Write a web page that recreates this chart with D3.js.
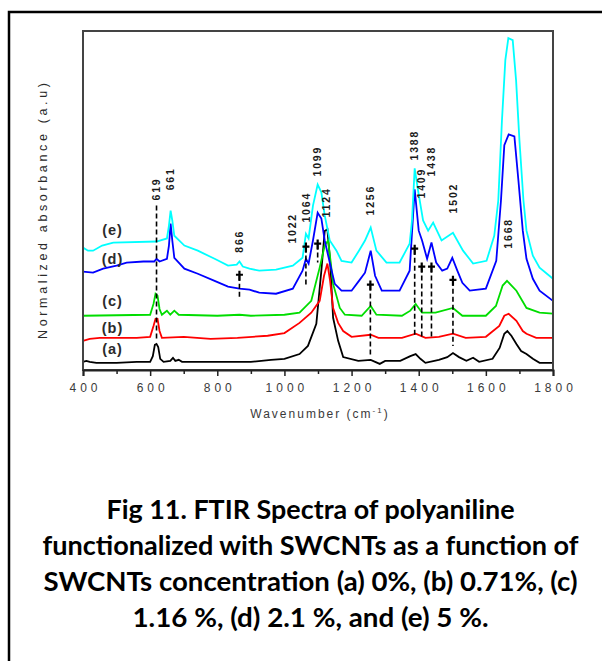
<!DOCTYPE html>
<html>
<head>
<meta charset="utf-8">
<script src="https://cdn.jsdelivr.net/npm/d3@7"></script>
<style>
  html, body { margin: 0; padding: 0; background: #fff; }
  svg { display: block; }
</style>
</head>
<body>
<svg id="chart" width="602" height="661"></svg>
<script>
// ---- FTIR spectra: [wavenumber (cm-1), normalized absorbance (a.u.)] ----
const spectrumA = [
  [400,0.024],[410,0.027],[420,0.024],[440,0.021],[500,0.021],[560,0.024],[600,0.024],
  [608,0.041],[614,0.074],[619,0.077],[624,0.068],[630,0.033],[640,0.024],[660,0.027],
  [668,0.036],[675,0.027],[685,0.030],[695,0.024],[800,0.024],[900,0.024],[960,0.030],
  [1000,0.033],[1045,0.047],[1070,0.071],[1095,0.136],[1110,0.293],[1120,0.410],
  [1128,0.415],[1136,0.322],[1145,0.154],[1160,0.086],[1175,0.038],[1220,0.027],
  [1257,0.030],[1284,0.018],[1300,0.027],[1345,0.027],[1375,0.041],[1391,0.047],
  [1405,0.033],[1420,0.021],[1460,0.030],[1485,0.038],[1502,0.050],[1520,0.038],
  [1542,0.027],[1562,0.036],[1580,0.024],[1620,0.033],[1641,0.065],[1655,0.107],
  [1664,0.115],[1676,0.101],[1691,0.077],[1705,0.056],[1721,0.047],[1740,0.033],
  [1760,0.021],[1800,0.021]
];
const spectrumB = [
  [400,0.086],[420,0.092],[450,0.095],[560,0.095],[600,0.098],[610,0.130],[616,0.151],
  [622,0.151],[628,0.115],[635,0.095],[700,0.098],[780,0.092],[860,0.095],[950,0.101],
  [1000,0.109],[1045,0.139],[1080,0.169],[1105,0.204],[1118,0.278],[1128,0.314],
  [1136,0.263],[1145,0.183],[1160,0.139],[1175,0.115],[1200,0.098],[1257,0.104],
  [1280,0.095],[1350,0.095],[1391,0.107],[1420,0.095],[1460,0.098],[1502,0.107],
  [1540,0.095],[1600,0.098],[1640,0.130],[1655,0.160],[1668,0.166],[1691,0.145],
  [1710,0.115],[1721,0.107],[1750,0.095],[1800,0.095]
];
const spectrumC = [
  [400,0.160],[600,0.163],[610,0.195],[616,0.225],[622,0.219],[628,0.180],[635,0.163],
  [650,0.175],[660,0.163],[672,0.175],[685,0.163],[800,0.160],[866,0.163],[900,0.160],
  [1000,0.163],[1045,0.169],[1080,0.204],[1105,0.302],[1120,0.367],[1130,0.382],
  [1138,0.317],[1145,0.254],[1165,0.183],[1180,0.163],[1230,0.160],[1257,0.189],
  [1274,0.163],[1350,0.160],[1375,0.175],[1391,0.195],[1410,0.169],[1450,0.169],
  [1502,0.183],[1530,0.160],[1600,0.160],[1630,0.189],[1650,0.249],[1663,0.263],
  [1691,0.234],[1721,0.183],[1760,0.169],[1800,0.166]
];
const spectrumD = [
  [400,0.290],[430,0.287],[460,0.299],[500,0.308],[530,0.317],[580,0.320],[612,0.320],
  [619,0.328],[628,0.320],[650,0.328],[656,0.367],[661,0.432],[666,0.382],[672,0.331],
  [702,0.299],[742,0.284],[792,0.263],[832,0.246],[866,0.240],[896,0.237],[925,0.228],
  [975,0.225],[1025,0.240],[1054,0.293],[1064,0.328],[1072,0.314],[1085,0.382],
  [1099,0.464],[1110,0.447],[1120,0.382],[1135,0.317],[1150,0.254],[1170,0.234],
  [1200,0.234],[1222,0.263],[1240,0.287],[1257,0.352],[1270,0.278],[1290,0.234],
  [1343,0.234],[1373,0.293],[1388,0.533],[1400,0.411],[1410,0.382],[1425,0.328],
  [1438,0.376],[1452,0.317],[1470,0.293],[1485,0.299],[1500,0.331],[1515,0.293],
  [1530,0.257],[1552,0.234],[1600,0.240],[1631,0.322],[1645,0.500],[1655,0.663],
  [1668,0.695],[1685,0.689],[1697,0.559],[1710,0.411],[1721,0.328],[1740,0.269],
  [1760,0.234],[1800,0.204]
];
const spectrumE = [
  [400,0.361],[415,0.352],[430,0.352],[457,0.367],[490,0.376],[619,0.379],[650,0.388],
  [656,0.426],[661,0.470],[666,0.441],[672,0.396],[702,0.367],[742,0.352],[792,0.328],
  [832,0.308],[858,0.311],[866,0.320],[876,0.305],[896,0.299],[925,0.293],[975,0.296],
  [1025,0.308],[1054,0.331],[1064,0.402],[1072,0.388],[1085,0.485],[1099,0.547],
  [1110,0.524],[1120,0.456],[1135,0.382],[1155,0.352],[1170,0.322],[1200,0.317],
  [1222,0.352],[1240,0.382],[1257,0.420],[1274,0.352],[1304,0.317],[1343,0.317],
  [1373,0.373],[1380,0.441],[1388,0.595],[1398,0.530],[1413,0.441],[1428,0.411],
  [1443,0.435],[1468,0.382],[1502,0.405],[1532,0.352],[1562,0.314],[1602,0.322],
  [1625,0.396],[1637,0.500],[1648,0.737],[1658,0.914],[1667,0.979],[1680,0.973],
  [1690,0.855],[1700,0.678],[1712,0.500],[1721,0.411],[1740,0.337],[1760,0.302],
  [1800,0.269]
];

const seriesNames       = ["(a)", "(b)", "(c)", "(d)", "(e)"];
const seriesColors      = ["#000000", "#ff0000", "#00dd00", "#0000ff", "#00ffff"];
const seriesLabelLevels = [0.062, 0.124, 0.204, 0.328, 0.414];
const spectra           = [spectrumA, spectrumB, spectrumC, spectrumD, spectrumE];

// Assigned band positions with dashed guide: wavenumber, marker level, guide bottom
const bandWavenumbers = [619, 866, 1064, 1099, 1256, 1388, 1409, 1438, 1502];
const bandMarkLevels  = [0.485, 0.278, 0.361, 0.370, 0.249, 0.355, 0.302, 0.302, 0.263];
const bandGuideEnds   = [0.086, 0.216, 0.249, 0.317, 0.041, 0.095, 0.095, 0.095, 0.071];
const bandHasMarker   = [false, true, true, true, true, true, true, true, true];

// Peak annotations: label text, wavenumber, level of label foot
const peakLabels      = ["619", "661", "866", "1022", "1064", "1099", "1124", "1256", "1388", "1409", "1438", "1502", "1668"];
const peakWavenumbers = [619, 661, 866, 1022, 1064, 1099, 1124, 1256, 1388, 1409, 1438, 1502, 1668];
const peakLabelLevels = [0.500, 0.530, 0.346, 0.373, 0.435, 0.571, 0.450, 0.456, 0.618, 0.506, 0.571, 0.462, 0.358];

const xMajorTicks = [400, 600, 800, 1000, 1200, 1400, 1600, 1800];
const xMinorTicks = [500, 700, 900, 1100, 1300, 1500, 1700];

const captionLines = [
  "Fig 11. FTIR Spectra of polyaniline",
  "functionalized with SWCNTs as a function of",
  "SWCNTs concentration (a) 0%, (b) 0.71%, (c)",
  "1.16 %, (d) 2.1 %, and (e) 5 %."
];

// ---- layout ----
const svg = d3.select("#chart");
const plot = { left: 83, right: 553, top: 31, bottom: 370 };
const chartFont = "Liberation Sans, Arial, sans-serif";

const x = d3.scaleLinear().domain([400, 1800]).range([plot.left, plot.right]);
const y = d3.scaleLinear().domain([0, 1]).range([plot.bottom, plot.top]);

// outer figure border (runs off the right and bottom edges)
svg.append("rect")
  .attr("x", 9).attr("y", 12).attr("width", 700).attr("height", 700)
  .attr("fill", "none").attr("stroke", "#000").attr("stroke-width", 2.5);

// spectra
const line = d3.line().x(d => x(d[0])).y(d => y(d[1])).curve(d3.curveLinear);
const gSpec = svg.append("g");
spectra.forEach((s, i) => {
  gSpec.append("path")
    .datum(s)
    .attr("d", line)
    .attr("fill", "none")
    .attr("stroke", seriesColors[i])
    .attr("stroke-width", 1.8)
    .attr("stroke-linejoin", "miter");
});

// series labels
seriesNames.forEach((name, i) => {
  svg.append("text")
    .attr("x", x(488))
    .attr("y", y(seriesLabelLevels[i]))
    .attr("dy", "0.35em")
    .attr("text-anchor", "middle")
    .attr("font-family", chartFont)
    .attr("font-weight", "bold")
    .attr("font-size", 14.5)
    .attr("letter-spacing", 1)
    .attr("fill", "#2b2b2b")
    .text(name);
});

// dashed guides and cross markers at the assigned bands
const gBands = svg.append("g").attr("stroke", "#000");
bandWavenumbers.forEach((w, i) => {
  const bx = x(w);
  gBands.append("line")
    .attr("x1", bx).attr("x2", bx)
    .attr("y1", y(bandMarkLevels[i])).attr("y2", y(bandGuideEnds[i]))
    .attr("stroke-width", 1.6)
    .attr("stroke-dasharray", "5,3");
  if (bandHasMarker[i]) {
    const my = y(bandMarkLevels[i]);
    gBands.append("path")
      .attr("d", `M${bx},${my - 5}V${my + 5}M${bx - 3.5},${my - 1}H${bx + 3.5}`)
      .attr("stroke-width", 2.2)
      .attr("fill", "none");
  }
});

// rotated peak labels
peakLabels.forEach((t, i) => {
  const px = x(peakWavenumbers[i]), py = y(peakLabelLevels[i]);
  svg.append("text")
    .attr("transform", `translate(${px},${py}) rotate(-90)`)
    .attr("dy", "0.35em")
    .attr("font-family", chartFont)
    .attr("font-weight", "bold")
    .attr("font-size", 10.5)
    .attr("letter-spacing", 1.8)
    .attr("fill", "#1a1a1a")
    .text(t);
});

// plot frame
svg.append("rect")
  .attr("x", plot.left).attr("y", plot.top)
  .attr("width", plot.right - plot.left).attr("height", plot.bottom - plot.top)
  .attr("fill", "none").attr("stroke", "#444").attr("stroke-width", 2);

// x axis: major and minor ticks below the frame
const xAxis = d3.axisBottom(x).tickValues(xMajorTicks).tickSize(6).tickPadding(7).tickFormat(d3.format("d"));
const gx = svg.append("g").attr("transform", `translate(0,${plot.bottom})`).call(xAxis);
gx.select(".domain").attr("stroke", "#222").attr("stroke-width", 2);
gx.selectAll(".tick line").attr("stroke", "#222").attr("stroke-width", 1.5);
gx.selectAll(".tick text")
  .attr("font-family", chartFont)
  .attr("font-size", 12)
  .attr("letter-spacing", 4)
  .attr("dx", 2)
  .attr("fill", "#3a3a3a");
const xMinor = d3.axisBottom(x).tickValues(xMinorTicks).tickSize(4).tickFormat("");
const gxm = svg.append("g").attr("transform", `translate(0,${plot.bottom})`).call(xMinor);
gxm.select(".domain").remove();
gxm.selectAll(".tick line").attr("stroke", "#222").attr("stroke-width", 1.5);

// axis titles
const xTitle = svg.append("text")
  .attr("x", 320).attr("y", 418)
  .attr("text-anchor", "middle")
  .attr("font-family", chartFont)
  .attr("font-size", 12)
  .attr("letter-spacing", 2)
  .attr("fill", "#3a3a3a");
xTitle.append("tspan").text("Wavenumber (cm");
xTitle.append("tspan").attr("dy", -5).attr("font-size", 8).text("-1");
xTitle.append("tspan").attr("dy", 5).text(")");

svg.append("text")
  .attr("transform", `translate(47,211) rotate(-90)`)
  .attr("text-anchor", "middle")
  .attr("font-family", chartFont)
  .attr("font-size", 12.5)
  .attr("textLength", 256)
  .attr("lengthAdjust", "spacing")
  .attr("fill", "#2a2a2a")
  .text("Normalized absorbance (a.u)");

// caption
const captionWidths = [408, 536, 534, 356];
captionLines.forEach((t, i) => {
  svg.append("text")
    .attr("x", 310.5).attr("y", 519 + i * 36)
    .attr("text-anchor", "middle")
    .attr("font-family", "Lato, 'Open Sans', sans-serif")
    .attr("font-weight", "bold")
    .attr("font-size", 26)
    .attr("textLength", captionWidths[i])
    .attr("lengthAdjust", "spacingAndGlyphs")
    .attr("fill", "#000")
    .text(t);
});
</script>
</body>
</html>
